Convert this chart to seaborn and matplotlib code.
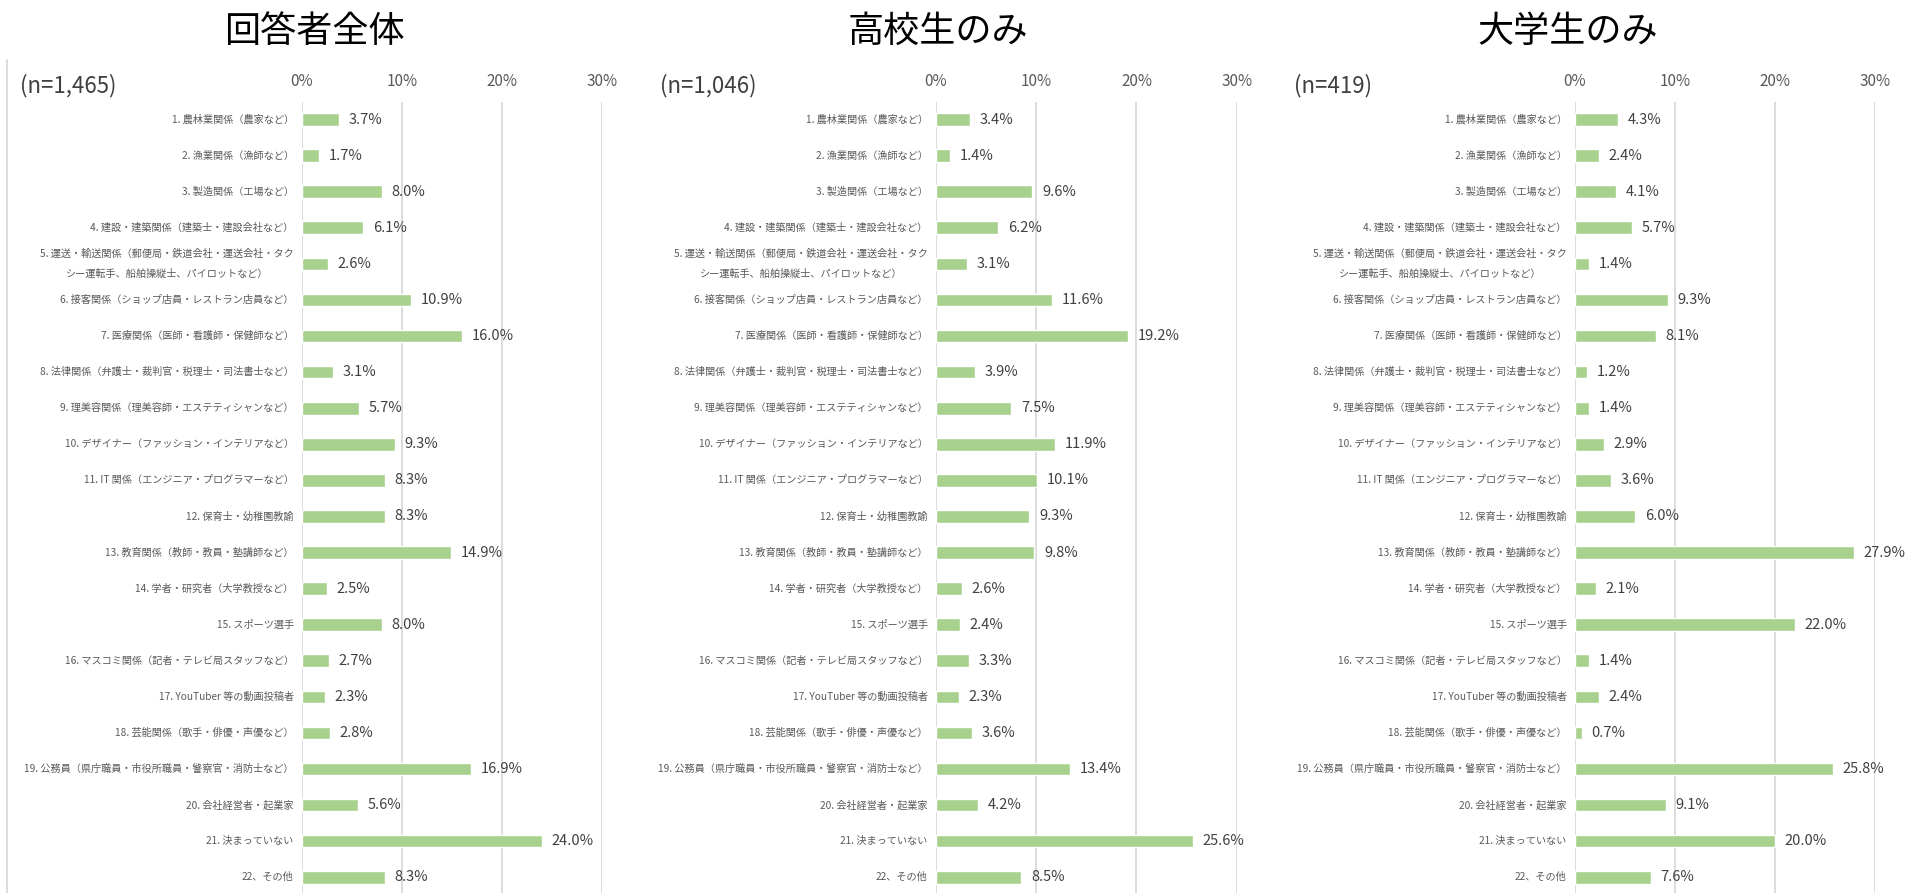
import matplotlib.pyplot as plt
import seaborn as sns
import pandas as pd
from matplotlib.lines import Line2D

# Data (percent of respondents)
categories = [
    "1. 農林業関係（農家など）",
    "2. 漁業関係（漁師など）",
    "3. 製造関係（工場など）",
    "4. 建設・建築関係（建築士・建設会社など）",
    "5. 運送・輸送関係（郵便局・鉄道会社・運送会社・タク\nシー運転手、船舶操縦士、パイロットなど）",
    "6. 接客関係（ショップ店員・レストラン店員など）",
    "7. 医療関係（医師・看護師・保健師など）",
    "8. 法律関係（弁護士・裁判官・税理士・司法書士など）",
    "9. 理美容関係（理美容師・エステティシャンなど）",
    "10. デザイナー（ファッション・インテリアなど）",
    "11. IT 関係（エンジニア・プログラマーなど）",
    "12. 保育士・幼稚園教諭",
    "13. 教育関係（教師・教員・塾講師など）",
    "14. 学者・研究者（大学教授など）",
    "15. スポーツ選手",
    "16. マスコミ関係（記者・テレビ局スタッフなど）",
    "17. YouTuber 等の動画投稿者",
    "18. 芸能関係（歌手・俳優・声優など）",
    "19. 公務員（県庁職員・市役所職員・警察官・消防士など）",
    "20. 会社経営者・起業家",
    "21. 決まっていない",
    "22、その他",
]
all_vals = [3.7, 1.7, 8.0, 6.1, 2.6, 10.9, 16.0, 3.1, 5.7, 9.3, 8.3,
            8.3, 14.9, 2.5, 8.0, 2.7, 2.3, 2.8, 16.9, 5.6, 24.0, 8.3]
hs_vals = [3.4, 1.4, 9.6, 6.2, 3.1, 11.6, 19.2, 3.9, 7.5, 11.9, 10.1,
           9.3, 9.8, 2.6, 2.4, 3.3, 2.3, 3.6, 13.4, 4.2, 25.6, 8.5]
univ_vals = [4.3, 2.4, 4.1, 5.7, 1.4, 9.3, 8.1, 1.2, 1.4, 2.9, 3.6,
             6.0, 27.9, 2.1, 22.0, 1.4, 2.4, 0.7, 25.8, 9.1, 20.0, 7.6]
panel_titles = ["回答者全体", "高校生のみ", "大学生のみ"]
sample_sizes = ["(n=1,465)", "(n=1,046)", "(n=419)"]
x_ticks = [0, 10, 20, 30]

sns.set_style("white")
plt.rcParams["font.family"] = ["Noto Sans CJK JP", "DejaVu Sans"]

W, H = 1906, 893
fig = plt.figure(figsize=(W / 100, H / 100), dpi=100)

# pixel layout of each panel
zero_px = [302, 936, 1575]
span_px = [300, 300.7, 299.7]
title_px = [314, 938, 1568]
n_px = [20, 660, 1294]
ax_top, ax_bottom = 101.5, 895.3

for i, vals in enumerate([all_vals, hs_vals, univ_vals]):
    df = pd.DataFrame({"category": categories, "value": vals})
    ax = fig.add_axes([zero_px[i] / W, 1 - ax_bottom / H,
                       span_px[i] / W, (ax_bottom - ax_top) / H])
    sns.barplot(data=df, x="value", y="category", color="#A9D18E",
                saturation=1, width=0.35, ax=ax)
    ax.set_xlim(0, 30)
    ax.set_xticks(x_ticks)
    ax.set_xticklabels([f"{t}%" for t in x_ticks])
    ax.xaxis.tick_top()
    ax.tick_params(axis="x", length=0, pad=8, labelsize=11, colors="#595959")
    ax.grid(axis="x", color="#d9d9d9", linewidth=1.3)
    ax.set_axisbelow(True)
    for s in ax.spines.values():
        s.set_visible(False)
    ax.set_xlabel("")
    ax.set_ylabel("")

    ax.bar_label(ax.containers[0], labels=[f"{v:.1f}%" for v in vals],
                 padding=7, fontsize=10.5, color="#404040")

    # category labels; the wrapped one is centred with open line spacing
    ax.set_yticks(range(len(categories)))
    ax.set_yticklabels(categories, linespacing=2.2, multialignment="center",
                       va="center")
    ax.tick_params(axis="y", length=0, pad=6, labelsize=7.3, colors="#595959")

    fig.text(title_px[i] / W, 1 - 32 / H, panel_titles[i],
             ha="center", va="center", fontsize=26, color="black")
    fig.text(n_px[i] / W, 1 - 86 / H, sample_sizes[i],
             ha="left", va="center", fontsize=16, color="#404040")

# thin border on the left of the first chart
fig.add_artist(Line2D([7 / W, 7 / W], [0, 1 - 60 / H], color="#d9d9d9", linewidth=1.3))

fig.savefig("out.png", dpi=100, facecolor="white")
